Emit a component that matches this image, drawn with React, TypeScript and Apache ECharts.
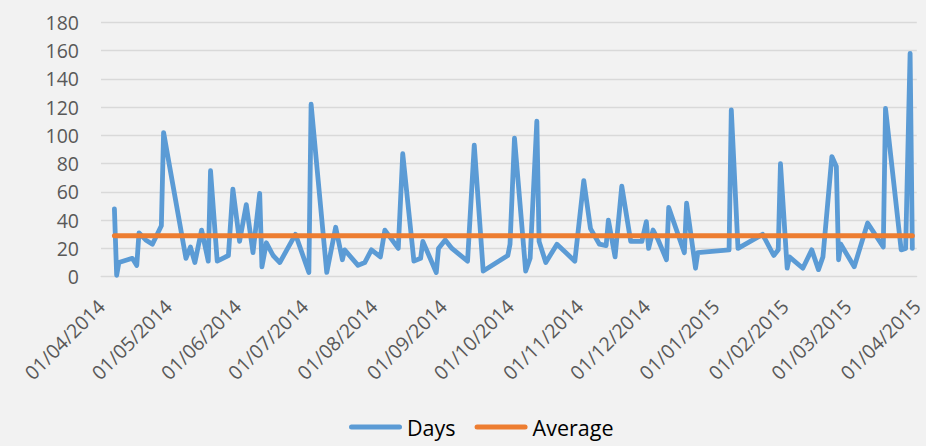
import React, { useEffect, useRef } from "react";
import * as echarts from "echarts";

// Axis range and monthly tick dates
const AXIS_MIN = "2014-04-01";
const AXIS_MAX = "2015-04-01";
const TICK_DATES = [
  "2014-04-01", "2014-05-01", "2014-06-01", "2014-07-01", "2014-08-01", "2014-09-01",
  "2014-10-01", "2014-11-01", "2014-12-01", "2015-01-01", "2015-02-01", "2015-03-01", "2015-04-01",
];

// Series "Days"
const DATES = [
  "2014-04-07", "2014-04-08", "2014-04-09", "2014-04-15", "2014-04-17", "2014-04-18", "2014-04-21", "2014-04-24", "2014-04-28", "2014-04-29",
  "2014-05-09", "2014-05-11", "2014-05-13", "2014-05-16", "2014-05-19", "2014-05-20", "2014-05-23", "2014-05-28", "2014-05-30",
  "2014-06-02", "2014-06-05", "2014-06-08", "2014-06-11", "2014-06-12", "2014-06-14", "2014-06-17", "2014-06-20", "2014-06-27",
  "2014-07-03", "2014-07-04", "2014-07-11", "2014-07-15", "2014-07-18", "2014-07-19", "2014-07-25", "2014-07-28", "2014-07-31",
  "2014-08-04", "2014-08-06", "2014-08-12", "2014-08-14", "2014-08-19", "2014-08-22", "2014-08-23", "2014-08-29", "2014-08-30",
  "2014-09-02", "2014-09-05", "2014-09-12", "2014-09-15", "2014-09-19", "2014-09-30",
  "2014-10-01", "2014-10-03", "2014-10-08", "2014-10-10", "2014-10-13", "2014-10-14", "2014-10-17", "2014-10-22", "2014-10-30",
  "2014-11-03", "2014-11-06", "2014-11-10", "2014-11-13", "2014-11-14", "2014-11-17", "2014-11-20", "2014-11-24", "2014-11-29",
  "2014-12-01", "2014-12-02", "2014-12-04", "2014-12-06", "2014-12-10", "2014-12-11", "2014-12-18", "2014-12-19", "2014-12-23", "2014-12-24",
  "2015-01-07", "2015-01-08", "2015-01-11", "2015-01-22", "2015-01-27", "2015-01-29", "2015-01-30",
  "2015-02-02", "2015-02-03", "2015-02-09", "2015-02-13", "2015-02-16", "2015-02-18", "2015-02-22", "2015-02-24", "2015-02-25", "2015-02-26",
  "2015-03-04", "2015-03-10", "2015-03-17", "2015-03-18", "2015-03-25", "2015-03-27", "2015-03-29", "2015-03-30",
];
const DAYS = [
  48, 1, 10, 13, 8, 31, 26, 23, 36, 102,
  13, 21, 10, 33, 11, 75, 11, 15, 62,
  25, 51, 17, 59, 7, 24, 15, 10, 30,
  3, 122, 3, 35, 12, 19, 8, 10, 19,
  14, 33, 20, 87, 11, 13, 25, 3, 20,
  26, 20, 11, 93, 4, 15,
  23, 98, 4, 13, 110, 25, 10, 23, 11,
  68, 34, 23, 22, 40, 14, 64, 25, 25,
  39, 20, 33, 27, 12, 49, 17, 52, 6, 17,
  19, 118, 20, 30, 15, 19, 80,
  6, 14, 6, 19, 5, 14, 85, 78, 12, 23,
  7, 38, 21, 119, 19, 20, 158, 20,
];

// Series "Average"
const AVERAGE = 29;

const SERIES_NAMES = ["Days", "Average"];

const toTs = (s: string) => {
  const [y, m, d] = s.split("-").map(Number);
  return new Date(y, m - 1, d).getTime();
};
const pad = (n: number) => (n < 10 ? "0" + n : "" + n);
const fmt = (v: number) => {
  const dt = new Date(v);
  return pad(dt.getDate()) + "/" + pad(dt.getMonth() + 1) + "/" + dt.getFullYear();
};

const FONT = "Open Sans";
const LEGEND_ICON = "path://M2.5,0 H50.5 A2.5,2.5 0 0 1 50.5,5 H2.5 A2.5,2.5 0 0 1 2.5,0 Z";

export default function App() {
  const ref = useRef<HTMLDivElement>(null);
  useEffect(() => {
    if (!ref.current) return;
    const chart = echarts.init(ref.current, null, { renderer: "svg" });
    const tickValues = TICK_DATES.map(toTs);
    chart.setOption({
      animation: false,
      backgroundColor: "#f2f2f2",
      grid: { left: 101, right: 5, top: 22.3, bottom: 169.3 },
      xAxis: {
        type: "value",
        min: toTs(AXIS_MIN),
        max: toTs(AXIS_MAX),
        axisLine: { show: true, lineStyle: { color: "#d9d9d9", width: 1 } },
        axisTick: { show: false, customValues: tickValues },
        splitLine: { show: false },
        axisLabel: {
          customValues: tickValues,
          formatter: (v: number) => fmt(v),
          rotate: 45,
          margin: 26,
          color: "#595959",
          fontFamily: FONT,
          fontSize: 19.5,
          hideOverlap: false,
        },
      },
      yAxis: {
        type: "value",
        min: 0,
        max: 180,
        interval: 20,
        axisLine: { show: false },
        axisTick: { show: false },
        splitLine: { lineStyle: { color: "#d9d9d9", width: 1.3 } },
        axisLabel: { margin: 22, color: "#595959", fontFamily: FONT, fontSize: 19.5 },
      },
      legend: {
        data: SERIES_NAMES.map((n) => ({ name: n, icon: LEGEND_ICON })),
        left: 344,
        top: 409,
        itemWidth: 53,
        itemHeight: 5,
        itemGap: 19,
        textStyle: { fontFamily: FONT, fontSize: 21.5, color: "#000000", lineHeight: 26 },
      },
      series: [
        {
          name: SERIES_NAMES[0],
          type: "line",
          data: DATES.map((d, i) => [toTs(d), DAYS[i]]),
          symbol: "none",
          lineStyle: { color: "#5b9bd5", width: 4.8, cap: "round", join: "round" },
          itemStyle: { color: "#5b9bd5" },
        },
        {
          name: SERIES_NAMES[1],
          type: "line",
          data: [
            [toTs(DATES[0]), AVERAGE],
            [toTs(DATES[DATES.length - 1]), AVERAGE],
          ],
          symbol: "none",
          lineStyle: { color: "#ed7d31", width: 5, cap: "round", join: "round" },
          itemStyle: { color: "#ed7d31" },
        },
      ],
    });
    return () => chart.dispose();
  }, []);
  return (
    <div
      ref={ref}
      style={{ position: "fixed", left: 0, top: 0, width: 926, height: 446, background: "#f2f2f2" }}
    />
  );
}
